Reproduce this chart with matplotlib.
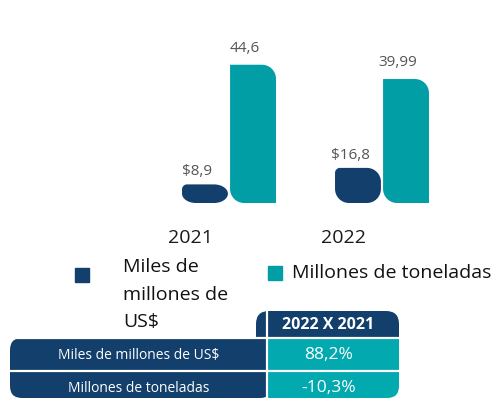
import textwrap
import matplotlib
matplotlib.use("Agg")
import matplotlib.pyplot as plt
from matplotlib.path import Path
from matplotlib.patches import PathPatch, Rectangle, FancyBboxPatch

# ---------------- data ----------------
years = ["2021", "2022"]
series_names = ["Miles de millones de US$", "Millones de toneladas"]
usd_values = [8.9, 16.8]          # Miles de millones de US$
ton_values = [44.6, 39.99]        # Millones de toneladas
usd_labels = ["$8,9", "$16,8"]
ton_labels = ["44,6", "39,99"]
table_header = "2022 X 2021"
table_values = ["88,2%", "-10,3%"]

NAVY = "#123F6B"
TEAL = "#019EA6"
TEAL_T = "#02A9AF"
FONT = "Open Sans"

W, H = 494, 400
fig = plt.figure(figsize=(W / 100, H / 100), dpi=100)

def fx(px):
    return px / W

def fy(py):
    return 1 - py / H

base_px = 203
ax_h_px = 180
px_per_x = 153
xlim = (-0.6, 1.6)
left_px = 229 + xlim[0] * px_per_x
ax = fig.add_axes([fx(left_px), fy(base_px), (xlim[1] - xlim[0]) * px_per_x / W, ax_h_px / H])
ax2 = ax.twinx()
ton_scale = 3.1   # px per unit
usd_scale = 2.09
ax.set_ylim(0, ax_h_px / ton_scale)
ax2.set_ylim(0, ax_h_px / usd_scale)
for a in (ax, ax2):
    a.set_xlim(*xlim)
    a.axis("off")

bw = 0.30
off = 0.157
xs = list(range(len(years)))

K = 0.5523
def rounded_path(x0, y0, w, h, rx, ry, tl, tr, br, bl):
    x1, y1 = x0 + w, y0 + h
    def r(flag):
        return (rx * flag, min(ry * flag, h / 2))
    rtl, rtr, rbr, rbl = r(tl), r(tr), r(br), r(bl)
    verts = [(x0 + rbl[0], y0), (x1 - rbr[0], y0),
             (x1 - rbr[0] + K * rbr[0], y0), (x1, y0 + rbr[1] - K * rbr[1]), (x1, y0 + rbr[1]),
             (x1, y1 - rtr[1]),
             (x1, y1 - rtr[1] + K * rtr[1]), (x1 - rtr[0] + K * rtr[0], y1), (x1 - rtr[0], y1),
             (x0 + rtl[0], y1),
             (x0 + rtl[0] - K * rtl[0], y1), (x0, y1 - rtl[1] + K * rtl[1]), (x0, y1 - rtl[1]),
             (x0, y0 + rbl[1]),
             (x0, y0 + rbl[1] - K * rbl[1]), (x0 + rbl[0] - K * rbl[0], y0), (x0 + rbl[0], y0),
             (x0 + rbl[0], y0)]
    codes = ([Path.MOVETO, Path.LINETO] + [Path.CURVE4] * 3 + [Path.LINETO] + [Path.CURVE4] * 3
             + [Path.LINETO] + [Path.CURVE4] * 3 + [Path.LINETO] + [Path.CURVE4] * 3 + [Path.CLOSEPOLY])
    return Path(verts, codes)

def draw_rounded(axis, bars, color, scale, corners):
    for b in bars:
        b.set_visible(False)
        x0, y0 = b.get_x(), b.get_y()
        w, h = b.get_width(), b.get_height()
        rpx = 14
        p = rounded_path(x0, y0, w, h, rpx / px_per_x, rpx / scale, *corners)
        axis.add_patch(PathPatch(p, facecolor=color, edgecolor="none"))

b_usd = ax2.bar([x - off for x in xs], usd_values, width=bw, color=NAVY)
b_ton = ax.bar([x + off for x in xs], ton_values, width=bw, color=TEAL)
draw_rounded(ax2, b_usd, NAVY, usd_scale, (0.35, 1, 1, 1))
draw_rounded(ax, b_ton, TEAL, ton_scale, (0, 1, 0, 1))

for x, v, lab in zip(xs, usd_values, usd_labels):
    ax2.annotate(lab, (x - off, v), xytext=(-8, 5), textcoords="offset pixels",
                 ha="center", va="bottom", fontsize=11, color="#555555", family=FONT)
for x, v, lab in zip(xs, ton_values, ton_labels):
    ax.annotate(lab, (x + off, v), xytext=(-8, 9), textcoords="offset pixels",
                ha="center", va="bottom", fontsize=11, color="#555555", family=FONT)

for x, yr in zip(xs, years):
    ax.text(x - 0.25, -(238 - base_px) / ax_h_px, yr, transform=ax.get_xaxis_transform(),
            ha="center", va="center", fontsize=14, color="#1a1a1a", family=FONT)

ov = fig.add_axes([0, 0, 1, 1])
ov.set_xlim(0, W)
ov.set_ylim(H, 0)
ov.axis("off")
ov.set_zorder(-1)

# legend
ov.add_patch(Rectangle((75, 268), 14, 14, color=NAVY))
ov.text(123, 258, textwrap.fill(series_names[0], 11), ha="left", va="top", fontsize=14,
        linespacing=1.68, color="#111111", family=FONT)
ov.add_patch(Rectangle((268, 266), 14, 14, color=TEAL))
ov.text(292, 273, series_names[1], ha="left", va="center", fontsize=14, color="#111111", family=FONT)

# table
ov.add_patch(FancyBboxPatch((256, 311), 143, 40, boxstyle="round,pad=0,rounding_size=13",
                            facecolor=NAVY, edgecolor="none"))
ov.add_patch(FancyBboxPatch((10, 338), 262, 60, boxstyle="round,pad=0,rounding_size=12",
                            facecolor=NAVY, edgecolor="none"))
ov.add_patch(FancyBboxPatch((268, 338), 131, 60, boxstyle="round,pad=0,rounding_size=12",
                            facecolor=TEAL_T, edgecolor="none"))
ov.add_patch(Rectangle((268, 338), 131, 35, facecolor=TEAL_T, edgecolor="none"))
ov.add_patch(Rectangle((268, 338), 60, 60, facecolor=TEAL_T, edgecolor="none"))
ov.plot([10, 399], [337.5, 337.5], color="white", lw=1.6)
ov.plot([10, 399], [371, 371], color="white", lw=1.6)
ov.plot([267, 267], [311, 400], color="white", lw=1.6)

ov.text(328, 325, table_header, ha="center", va="center", fontsize=11.5, fontweight="bold",
        color="white", family=FONT)
row_y = [355, 388]
for yy, name, val in zip(row_y, series_names, table_values):
    ov.text(139, yy, name, ha="center", va="center", fontsize=10, color="white", family=FONT)
    ov.text(329, yy, val, ha="center", va="center", fontsize=12.5, color="white", family=FONT)

fig.savefig("out.png", dpi=100)
